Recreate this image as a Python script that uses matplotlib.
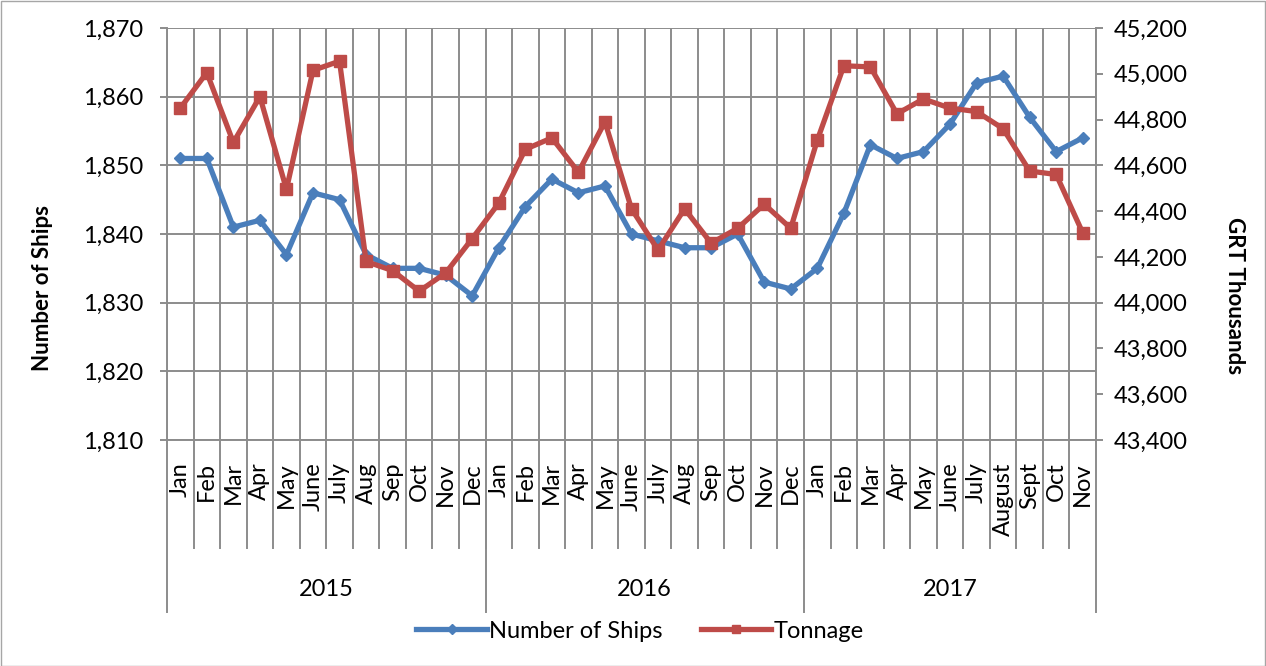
import matplotlib
matplotlib.use("Agg")
import matplotlib.pyplot as plt
from matplotlib.ticker import FuncFormatter, MultipleLocator
from matplotlib.transforms import blended_transform_factory
from matplotlib.patches import Rectangle

plt.rcParams['font.family'] = ['Lato', 'DejaVu Sans']

# --- data ---
months = ['Jan', 'Feb', 'Mar', 'Apr', 'May', 'June', 'July', 'Aug', 'Sep', 'Oct', 'Nov', 'Dec',
          'Jan', 'Feb', 'Mar', 'Apr', 'May', 'June', 'July', 'Aug', 'Sep', 'Oct', 'Nov', 'Dec',
          'Jan', 'Feb', 'Mar', 'Apr', 'May', 'June', 'July', 'August', 'Sept', 'Oct', 'Nov']
years = ['2015', '2016', '2017']
months_per_year = [12, 12, 11]

ships = [1851, 1851, 1841, 1842, 1837, 1846, 1845, 1837, 1835, 1835, 1834, 1831,
         1838, 1844, 1848, 1846, 1847, 1840, 1839, 1838, 1838, 1840, 1833, 1832,
         1835, 1843, 1853, 1851, 1852, 1856, 1862, 1863, 1857, 1852, 1854]

tonnage = [44850, 45005, 44700, 44900, 44495, 45015, 45055, 44180, 44140, 44050, 44130, 44280,
           44435, 44670, 44720, 44570, 44790, 44410, 44230, 44410, 44260, 44325, 44430, 44325,
           44710, 45035, 45030, 44825, 44890, 44850, 44835, 44760, 44575, 44560, 44305]

BLUE = '#4A7EBB'
RED = '#BE4B48'
GRID = '#8C8C8C'

W, H = 1266, 666
fig = plt.figure(figsize=(W / 100, H / 100), dpi=100)
left, right, top, bottom = 167, 1096, 28, 440
ax = fig.add_axes([left / W, 1 - bottom / H, (right - left) / W, (bottom - top) / H])
ax2 = ax.twinx()

x = list(range(len(months)))
ax.plot(x, ships, color=BLUE, lw=3.8, marker='D', ms=6.5, mec=BLUE, mfc=BLUE,
        label='Number of Ships', zorder=3, solid_joinstyle='round')
ax2.plot(x, tonnage, color=RED, lw=3.8, marker='s', ms=8, mec=RED, mfc=RED,
         label='Tonnage', zorder=3, solid_joinstyle='round')

# axes ranges
ax.set_xlim(-0.5, len(months) - 0.5)
ax.set_ylim(1810, 1870)
ax2.set_ylim(43400, 45200)
ax.yaxis.set_major_locator(MultipleLocator(10))
ax2.yaxis.set_major_locator(MultipleLocator(200))
fmt = FuncFormatter(lambda v, p: f'{v:,.0f}')
ax.yaxis.set_major_formatter(fmt)
ax2.yaxis.set_major_formatter(fmt)

# gridlines
ax.grid(axis='y', color=GRID, lw=1.4)
ax.set_xticks([i - 0.5 for i in range(len(months) + 1)], minor=True)
ax.grid(axis='x', which='minor', color=GRID, lw=1.4)
ax.set_axisbelow(True)

# month labels
ax.set_xticks(x)
ax.set_xticklabels(months, rotation=90, fontsize=17)
ax.tick_params(axis='x', which='major', length=0, pad=16)
ax.tick_params(axis='x', which='minor', length=0)

# y tick styling
ax.tick_params(axis='y', direction='out', length=5, width=1.4, color=GRID, labelsize=17, pad=12)
ax2.tick_params(axis='y', direction='out', length=5, width=1.4, color=GRID, labelsize=17, pad=8)

for a in (ax, ax2):
    for s in a.spines.values():
        s.set_visible(False)
ax.spines['left'].set_visible(True)
ax.spines['left'].set_color(GRID)
ax.spines['left'].set_linewidth(1.4)
ax2.spines['right'].set_visible(True)
ax2.spines['right'].set_color(GRID)
ax2.spines['right'].set_linewidth(1.4)
ax.spines['bottom'].set_visible(True)
ax.spines['bottom'].set_color(GRID)
ax.spines['bottom'].set_linewidth(1.4)

# multi-level category axis: separators and year labels
trans = blended_transform_factory(ax.transData, ax.transAxes)
ax_h = bottom - top
month_drop = -(548 - bottom) / ax_h
year_drop = -(612 - bottom) / ax_h
for i in range(1, len(months)):
    ax.plot([i - 0.5, i - 0.5], [0, month_drop], color=GRID, lw=1.4,
            transform=trans, clip_on=False)
start = 0
bounds = [-0.5]
for yr, n in zip(years, months_per_year):
    mid = start + (n - 1) / 2
    ax.text(mid, -(590 - bottom) / ax_h, yr, transform=trans, ha='center', va='center',
            fontsize=17)
    start += n
    bounds.append(start - 0.5)
for b in bounds:
    ax.plot([b, b], [0, year_drop], color=GRID, lw=1.4, transform=trans, clip_on=False)

# axis titles
fig.text(43 / W, 1 - 288 / H, 'Number of Ships', rotation=90, ha='center', va='center',
         fontsize=16, fontweight='bold')
fig.text(1235 / W, 1 - 296 / H, 'GRT Thousands', rotation=-90, ha='center', va='center',
         fontsize=16, fontweight='bold')

# legend
h1, l1 = ax.get_legend_handles_labels()
h2, l2 = ax2.get_legend_handles_labels()
fig.legend(h1 + h2, l1 + l2, loc='center', bbox_to_anchor=(640 / W, 1 - 631 / H), ncol=2,
           frameon=False, fontsize=17, handlelength=3.0, handletextpad=0.1,
           columnspacing=1.6, markerscale=0.8)

# chart border
fig.patches.append(Rectangle((0.5 / W, 0.5 / H), 1 - 1.5 / W, 1 - 1.5 / H,
                             transform=fig.transFigure, fill=False, edgecolor='#A6A6A6', lw=1))

fig.savefig('out.png', dpi=100)
